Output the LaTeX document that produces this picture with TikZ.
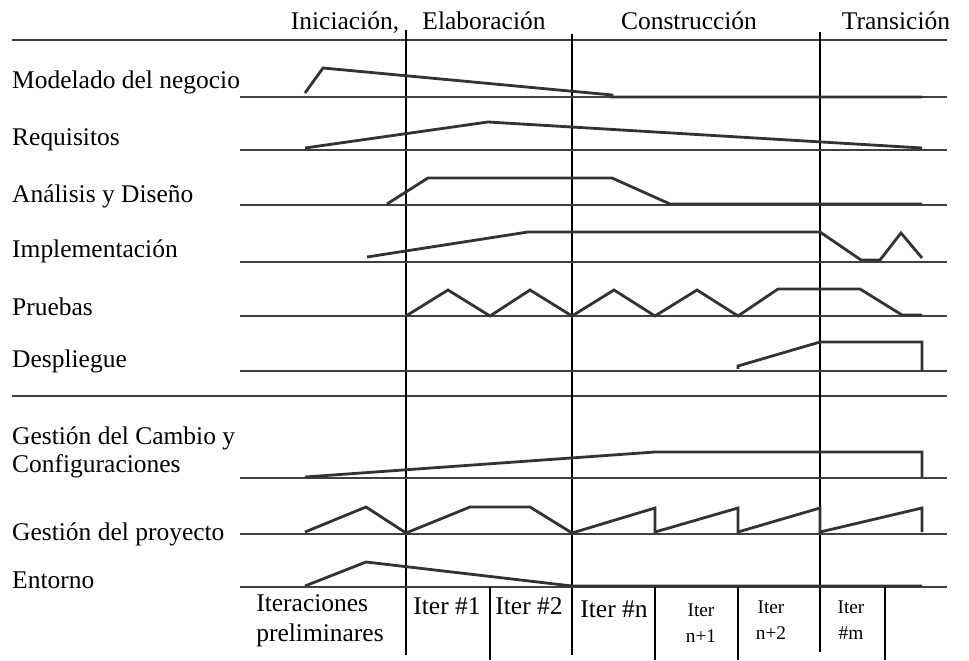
\documentclass[tikz,border=0pt]{standalone}
\usepackage{fontspec}
\setmainfont{Liberation Serif}
\usepackage{tikz}
\tikzset{>=latex}
\tikzset{
    fase/.style={black, line width=.6pt},
    base/.style={black!75, line width=1.1pt},
    carga/.style={black!80, line width=1.6pt, line join=miter},
    disc/.style={anchor=west, font=\fontsize{14.5}{16}\selectfont},
    etapa/.style={font=\fontsize{14.5}{16}\selectfont},
    iter/.style={font=\fontsize{14.5}{17}\selectfont, align=center},
    iterc/.style={font=\fontsize{11}{15}\selectfont, align=center},
}

\begin{document}
\begin{tikzpicture}[x=.02cm, y=-.02cm]
    \useasboundingbox (0, 0) rectangle (969, 661);
    % fases
    \node[etapa] (ini) at (345, 23) {Iniciación,};
    \node[etapa] (ela) at (484, 21) {Elaboración};
    \node[etapa] (con) at (689, 21) {Construcción};
    \node[etapa] (tra) at (896, 21) {Transición};
    \draw[base] (12, 40) -- (947, 40);
    \draw[base] (12, 396) -- (947, 396);
    \draw[fase] (406, 30) -- (406, 655);
    \draw[fase] (572, 34) -- (572, 655);
    \draw[fase] (820, 32) -- (820, 652);
    % disciplinas
    \node[disc] (mod) at (6, 82) {Modelado del negocio};
    \node[disc] (req) at (6, 140) {Requisitos};
    \node[disc] (ana) at (6, 196) {Análisis y Diseño};
    \node[disc] (imp) at (6, 251) {Implementación};
    \node[disc] (pru) at (6, 307) {Pruebas};
    \node[disc] (des) at (6, 361) {Despliegue};
    \node[disc, align=left] (cam) at (6, 452) {Gestión del Cambio y\\Configuraciones};
    \node[disc] (pro) at (6, 534) {Gestión del proyecto};
    \node[disc] (ent) at (6, 580) {Entorno};
    \foreach \y in {97, 150, 205, 262, 316, 371, 478, 534, 587}
        \draw[base] (240, \y) -- (947, \y);
    % esfuerzo
    \draw[carga] (305, 93) -- (323, 68) -- (612, 95) -- (612, 97) -- (922, 97);
    \draw[carga] (305, 148) -- (488, 122) -- (922, 148);
    \draw[carga] (387, 204) -- (428, 178) -- (612, 178) -- (670, 204) -- (922, 204);
    \draw[carga] (367, 257) -- (528, 232) -- (820, 232) -- (861, 260) -- (880, 260) -- (901, 233) -- (922, 258);
    \draw[carga] (406, 316) -- (448, 290) -- (490, 316) -- (530, 290) -- (572, 316) -- (614, 290) -- (655, 316)
        -- (697, 290) -- (738, 316) -- (778, 289) -- (860, 289) -- (902, 315) -- (922, 315);
    \draw[carga] (738, 369) -- (738, 366) -- (820, 342) -- (922, 342) -- (922, 371);
    \draw[carga] (305, 477) -- (655, 452) -- (922, 452) -- (922, 477);
    \draw[carga] (305, 532) -- (366, 507) -- (406, 533) -- (470, 507) -- (530, 507) -- (572, 533)
        -- (655, 508) -- (655, 532) -- (738, 508) -- (738, 532) -- (820, 508) -- (820, 532) -- (922, 508) -- (922, 532);
    \draw[carga] (305, 586) -- (366, 562) -- (572, 586) -- (922, 586);
    % iteraciones
    \foreach \x in {490, 655, 738, 885}
        \draw[fase] (\x, 587) -- (\x, 660);
    \node[iter, align=left] (pre) at (320, 621) {Iteraciones\\preliminares};
    \node[iter] (it1) at (447, 606) {Iter \#1};
    \node[iter] (it2) at (529, 606) {Iter \#2};
    \node[iter] (itn) at (614, 609) {Iter \#n};
    \node[iterc] (itn1) at (701, 623) {Iter\\n+1};
    \node[iterc] (itn2) at (771, 620) {Iter\\n+2};
    \node[iterc] (itm) at (851, 620) {Iter\\\#m};
\end{tikzpicture}
\end{document}
